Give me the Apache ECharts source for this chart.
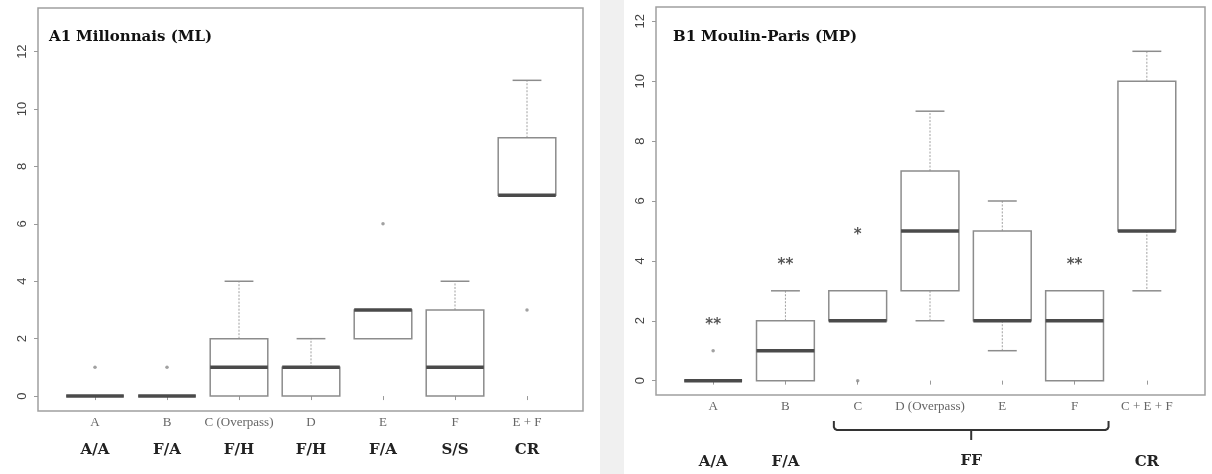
<!DOCTYPE html>
<html><head><meta charset="utf-8">
<script src="https://cdn.jsdelivr.net/npm/echarts@6/dist/echarts.min.js"></script>
<style>html,body{margin:0;padding:0;background:#fff}#c{width:1212px;height:474px}</style>
</head><body><div id="c"></div>
<script>
// ---------- Panel A1 : Millonnais (ML) ----------
const catsA = ['A', 'B', 'C (Overpass)', 'D', 'E', 'F', 'E + F'];
const groupsA = ['A/A', 'F/A', 'F/H', 'F/H', 'F/A', 'S/S', 'CR'];
// [lower whisker, Q1, median, Q3, upper whisker]
const boxA = [
  [0, 0, 0, 0, 0],
  [0, 0, 0, 0, 0],
  [0, 0, 1, 2, 4],
  [0, 0, 1, 1, 2],
  [2, 2, 3, 3, 3],
  [0, 0, 1, 3, 4],
  [7, 7, 7, 9, 11]
];
const outliersA = [[0, 1], [1, 1], [4, 6], [6, 3]];
const titleA = ['A1', 'Millonnais (ML)'];

// ---------- Panel B1 : Moulin-Paris (MP) ----------
const catsB = ['A', 'B', 'C', 'D (Overpass)', 'E', 'F', 'C + E + F'];
const groupsB = ['A/A', 'F/A', '', '', '', '', 'CR'];
const boxB = [
  [0, 0, 0, 0, 0],
  [0, 0, 1, 2, 3],
  [2, 2, 2, 3, 3],
  [2, 3, 5, 7, 9],
  [1, 2, 2, 5, 6],
  [0, 0, 2, 3, 3],
  [3, 5, 5, 10, 11]
];
const outliersB = [[0, 1], [2, 0]];
const starsB = [[0, 2, '**'], [1, 4, '**'], [2, 5, '*'], [5, 4, '**']];
const titleB = ['B1', 'Moulin-Paris (MP)'];
const bracketB = { from: 2, to: 5, label: 'FF' };

const yTicks = [0, 2, 4, 6, 8, 10, 12];

// ---------- rendering ----------
const chart = echarts.init(document.getElementById('c'), null, { renderer: 'canvas' });

function renderBox(params, api) {
  const i = api.value(0);
  const v = [api.value(1), api.value(2), api.value(3), api.value(4), api.value(5)];
  const band = api.size([1, 0])[0];
  const hw = band * 0.4, cw = band * 0.2;
  const pts = v.map(val => api.coord([i, val]));
  const x = pts[0][0];
  const y = pts.map(p => p[1]);
  const whisk = { stroke: '#a0a0a0', lineWidth: 1, lineDash: [2, 1.5] };
  const cap = { stroke: '#8c8c8c', lineWidth: 1.5 };
  const kids = [];
  if (v[4] > v[3]) {
    kids.push({ type: 'line', shape: { x1: x, y1: y[3], x2: x, y2: y[4] }, style: whisk });
    kids.push({ type: 'line', shape: { x1: x - cw, y1: y[4], x2: x + cw, y2: y[4] }, style: cap });
  }
  if (v[0] < v[1]) {
    kids.push({ type: 'line', shape: { x1: x, y1: y[1], x2: x, y2: y[0] }, style: whisk });
    kids.push({ type: 'line', shape: { x1: x - cw, y1: y[0], x2: x + cw, y2: y[0] }, style: cap });
  }
  kids.push({ type: 'rect', shape: { x: x - hw, y: y[3], width: 2 * hw, height: y[1] - y[3] },
    style: { stroke: '#8c8c8c', lineWidth: 1.5, fill: '#fff' } });
  kids.push({ type: 'line', shape: { x1: x - hw, y1: y[2], x2: x + hw, y2: y[2] },
    style: { stroke: '#4a4a4a', lineWidth: 3.5 } });
  return { type: 'group', children: kids };
}

function catAxis(gridIndex, cats, groups, lh2) {
  return {
    type: 'category', gridIndex, data: cats, boundaryGap: true,
    axisLine: { show: false },
    axisTick: { show: true, alignWithLabel: true, length: 4, lineStyle: { color: '#999' } },
    axisLabel: {
      interval: 0, margin: 5,
      formatter: (val, idx) => groups[idx] ? '{a|' + val + '}\n{b|' + groups[idx] + '}' : '{a|' + val + '}',
      rich: {
        a: { fontFamily: 'Liberation Serif', fontSize: 13, color: '#666', lineHeight: 14 },
        b: { fontFamily: 'DejaVu Serif', fontWeight: 'bold', fontSize: 15, color: '#222', lineHeight: lh2 }
      }
    },
    splitLine: { show: false }
  };
}
function valAxisVisible(gridIndex, min, max) {
  return {
    type: 'value', gridIndex, min, max,
    axisLine: { show: false },
    axisTick: { show: true, length: 4, customValues: yTicks, lineStyle: { color: '#999' } },
    axisLabel: { customValues: yTicks, rotate: 90, margin: 9, fontFamily: 'Liberation Sans', fontSize: 13, color: '#444' },
    splitLine: { show: false }
  };
}
function hiddenVal(gridIndex, min, max) {
  return { type: 'value', gridIndex, min, max, show: false, splitLine: { show: false } };
}
function titleRich(t, left) {
  return {
    text: '{b|' + t[0] + '} {n|' + t[1] + '}', left, top: 23,
    textStyle: { rich: {
      b: { fontFamily: 'DejaVu Serif', fontWeight: 'bold', fontSize: 15, color: '#111' },
      n: { fontFamily: 'DejaVu Serif', fontSize: 15, color: '#111' }
    } }
  };
}

const yA = [-0.52, 13.52], yB = [-0.48, 12.48];

const option = {
  animation: false,
  backgroundColor: '#fff',
  title: [titleRich(titleA, 44), titleRich(titleB, 668)],
  grid: [
    { left: 38, top: 8, width: 545, height: 403, show: true, borderColor: '#a0a0a0', borderWidth: 1.5 },
    { left: 59, top: 8, width: 504, height: 403 },
    { left: 656, top: 7, width: 549, height: 388, show: true, borderColor: '#a0a0a0', borderWidth: 1.5 },
    { left: 677, top: 7, width: 506, height: 388 }
  ],
  xAxis: [
    hiddenVal(0, 0, 1),
    catAxis(1, catsA, groupsA, 40),
    hiddenVal(2, 0, 1),
    catAxis(3, catsB, groupsB, 96)
  ],
  yAxis: [
    valAxisVisible(0, yA[0], yA[1]),
    hiddenVal(1, yA[0], yA[1]),
    valAxisVisible(2, yB[0], yB[1]),
    hiddenVal(3, yB[0], yB[1])
  ],
  series: [
    { type: 'custom', xAxisIndex: 1, yAxisIndex: 1, renderItem: renderBox,
      encode: { x: 0, y: [1, 2, 3, 4, 5] }, data: boxA.map((b, i) => [i].concat(b)) },
    { type: 'scatter', xAxisIndex: 1, yAxisIndex: 1, symbolSize: 3.5,
      itemStyle: { color: '#8a8a8a' }, data: outliersA },
    { type: 'custom', xAxisIndex: 3, yAxisIndex: 3, renderItem: renderBox,
      encode: { x: 0, y: [1, 2, 3, 4, 5] }, data: boxB.map((b, i) => [i].concat(b)) },
    { type: 'scatter', xAxisIndex: 3, yAxisIndex: 3, symbolSize: 3.5,
      itemStyle: { color: '#8a8a8a' }, data: outliersB },
    { type: 'scatter', xAxisIndex: 3, yAxisIndex: 3, symbolSize: 1,
      itemStyle: { color: 'rgba(0,0,0,0)' },
      label: { show: true, position: 'inside', offset: [0, 4], formatter: p => p.value[2],
        fontFamily: 'DejaVu Sans', fontWeight: 'bold', fontSize: 15, color: '#2a2a2a' },
      data: starsB }
  ]
};
chart.setOption(option);

// decorations: page texture strip, bracket grouping C..F with its label
const xFrom = chart.convertToPixel({ xAxisIndex: 3 }, bracketB.from);
const xTo = chart.convertToPixel({ xAxisIndex: 3 }, bracketB.to);
const band = chart.convertToPixel({ xAxisIndex: 3 }, 1) - chart.convertToPixel({ xAxisIndex: 3 }, 0);
const bl = xFrom - 0.33 * band, br = xTo + 0.47 * band, bc = (bl + br) / 2, by = 430;
chart.setOption({
  graphic: [
    { type: 'rect', left: 600, top: 0, shape: { width: 24, height: 474 }, style: { fill: '#f0f0f0' }, z: -10, silent: true },
    { type: 'polyline', silent: true,
      shape: { points: [[bl, by - 9], [bl, by - 3], [bl + 1, by - 1], [bl + 3, by], [br - 3, by], [br - 1, by - 1], [br, by - 3], [br, by - 9]] },
      style: { stroke: '#333', lineWidth: 2, fill: null } },
    { type: 'line', silent: true, shape: { x1: bc, y1: by, x2: bc, y2: by + 10 },
      style: { stroke: '#333', lineWidth: 2 } },
    { type: 'text', x: bc, y: 461, silent: true,
      style: { text: bracketB.label, fontFamily: 'DejaVu Serif', fontWeight: 'bold', fontSize: 15,
        fill: '#222', align: 'center', verticalAlign: 'middle' } }
  ]
});
</script>
</body></html>
